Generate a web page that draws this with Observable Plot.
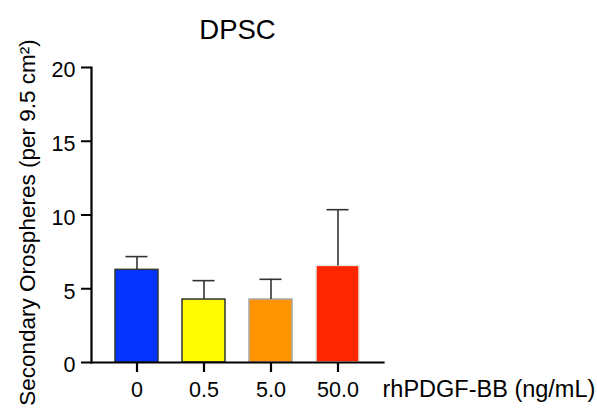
<!DOCTYPE html>
<html>
<head>
<meta charset="utf-8">
<script src="https://cdn.jsdelivr.net/npm/d3@7"></script>
<script src="https://cdn.jsdelivr.net/npm/@observablehq/plot@0.6"></script>
<style>
  html, body { margin: 0; padding: 0; background: white; }
</style>
</head>
<body>
<div id="chart"></div>
<script>
const title = "DPSC";
const yLabel = "Secondary Orospheres (per 9.5 cm²)";
const xLabel = "rhPDGF-BB (ng/mL)";
const doses = ["0", "0.5", "5.0", "50.0"];
const means = [6.28, 4.27, 4.27, 6.55];
const sds = [0.90, 1.28, 1.37, 3.81];
const yTicks = [0, 5, 10, 15, 20];
const fillColors = ["#0433FF", "#FFFB00", "#FF9300", "#FF2600"];
const strokeColors = ["#333333", "#333333", "#a8a8a8", "#e6e6e6"];

const table = doses.map((dose, i) => ({
  dose, mean: means[i], upper: means[i] + sds[i],
  fill: fillColors[i], stroke: strokeColors[i]
}));

const chart = Plot.plot({
  width: 597,
  height: 410,
  marginLeft: 91,
  marginRight: 214,
  marginTop: 67,
  marginBottom: 48,
  style: {fontFamily: "'Liberation Sans', Arial, sans-serif", fontSize: "21.5px", background: "white", color: "black"},
  x: {type: "band", domain: doses, paddingInner: 0.355, paddingOuter: 0.335, label: null},
  y: {domain: [0, 20], label: null},
  marks: [
    Plot.barY(table, {x: "dose", y: "mean", fill: "fill", stroke: "stroke", strokeWidth: 1.5}),
    Plot.ruleX(table, {x: "dose", y1: "mean", y2: "upper", stroke: "#333", strokeWidth: 1.6}),
    Plot.tickY(table, {x: "dose", y: "upper", stroke: "#333", strokeWidth: 1.6, insetLeft: 10.5, insetRight: 10.5}),
    Plot.frame({anchor: "left", strokeWidth: 2.2, stroke: "black"}),
    Plot.frame({anchor: "bottom", strokeWidth: 2.2, stroke: "black"}),
    Plot.axisX({tickSize: 10, tickPadding: 9.4, strokeWidth: 2.2, fontSize: 21.5, label: null}),
    Plot.axisY({ticks: yTicks, tickSize: 10, tickFormat: () => "", strokeWidth: 2, label: null}),
    Plot.axisY({ticks: yTicks, tickSize: 0, tickPadding: 16, dy: 3, fontSize: 21.5, label: null}),
    Plot.text([title], {text: d => d, frameAnchor: "top", textAnchor: "middle", dy: -48.5, fontSize: 27.5}),
    Plot.text([yLabel], {text: d => d, frameAnchor: "left", textAnchor: "middle", lineAnchor: "middle", rotate: -90, dx: -64, dy: 7.5, fontSize: 22.5}),
    Plot.text([xLabel], {text: d => d, frameAnchor: "bottom-right", textAnchor: "start", lineAnchor: "top", dx: -1, dy: 18, fontSize: 23.5})
  ]
});
document.getElementById("chart").appendChild(chart);
</script>
</body>
</html>
